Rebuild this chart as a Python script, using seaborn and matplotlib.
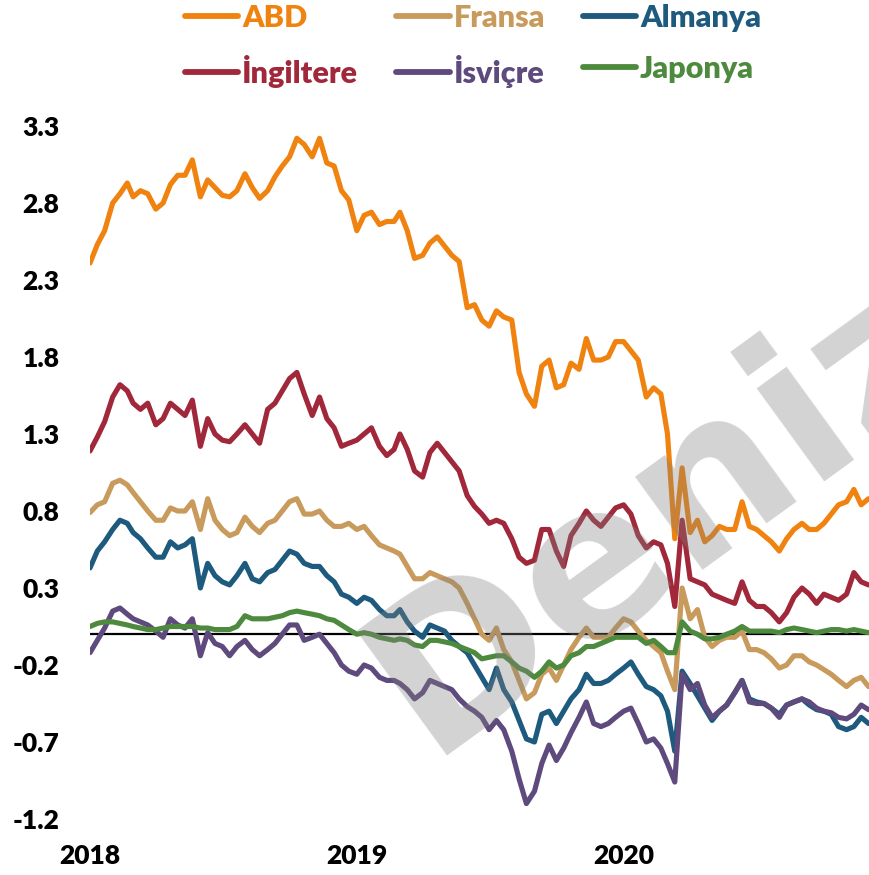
import pandas as pd
import matplotlib
matplotlib.use("Agg")
import matplotlib.pyplot as plt
from matplotlib.lines import Line2D
import seaborn as sns

# sampling dates: 1st, 11th and 21st of each month, Jan 2018 - Dec 2020
dates = pd.to_datetime(
    [f"{y}-{m:02d}-{d:02d}" for y in (2018, 2019, 2020) for m in range(1, 13) for d in (1, 11, 21)
     if not (y == 2020 and m == 12 and d > 1)]
)

abd = [
    2.41, 2.53, 2.62, 2.80, 2.86, 2.93, 2.84, 2.88, 2.86, 2.76, 2.80, 2.92,
    2.98, 2.98, 3.08, 2.84, 2.95, 2.90, 2.85, 2.84, 2.88, 2.99, 2.90, 2.83,
    2.88, 2.97, 3.04, 3.10, 3.22, 3.18, 3.10, 3.22, 3.06, 3.04, 2.88, 2.82,
    2.62, 2.72, 2.74, 2.66, 2.68, 2.68, 2.74, 2.62, 2.44, 2.46, 2.54, 2.58,
    2.52, 2.46, 2.42, 2.12, 2.14, 2.04, 2.00, 2.10, 2.06, 2.04, 1.70, 1.56,
    1.48, 1.74, 1.78, 1.60, 1.62, 1.76, 1.72, 1.92, 1.78, 1.78, 1.80, 1.90,
    1.90, 1.84, 1.78, 1.54, 1.60, 1.56, 1.30, 0.62, 1.08, 0.66, 0.74, 0.60,
    0.64, 0.70, 0.68, 0.68, 0.86, 0.70, 0.68, 0.64, 0.60, 0.54, 0.62, 0.68,
    0.72, 0.68, 0.68, 0.72, 0.78, 0.84, 0.86, 0.94, 0.84, 0.88,
]
fransa = [
    0.79, 0.84, 0.86, 0.98, 1.00, 0.97, 0.92, 0.86, 0.80, 0.74, 0.74, 0.82,
    0.80, 0.80, 0.86, 0.68, 0.88, 0.74, 0.68, 0.64, 0.66, 0.76, 0.70, 0.66,
    0.72, 0.74, 0.80, 0.86, 0.88, 0.78, 0.78, 0.80, 0.74, 0.70, 0.70, 0.72,
    0.68, 0.70, 0.64, 0.58, 0.56, 0.54, 0.52, 0.44, 0.36, 0.36, 0.40, 0.38,
    0.36, 0.34, 0.30, 0.20, 0.10, 0.00, -0.04, 0.04, -0.10, -0.18, -0.30, -0.42,
    -0.38, -0.26, -0.22, -0.30, -0.20, -0.10, -0.02, 0.04, -0.02, -0.02, -0.02, 0.04,
    0.10, 0.08, 0.02, -0.04, -0.08, -0.12, -0.24, -0.36, 0.30, 0.10, 0.16, -0.02,
    -0.08, -0.04, -0.02, -0.02, 0.02, -0.10, -0.10, -0.12, -0.16, -0.22, -0.20, -0.14,
    -0.14, -0.18, -0.20, -0.23, -0.26, -0.30, -0.34, -0.30, -0.28, -0.34,
]
almanya = [
    0.43, 0.54, 0.60, 0.68, 0.74, 0.72, 0.66, 0.62, 0.56, 0.50, 0.50, 0.60,
    0.56, 0.58, 0.62, 0.30, 0.46, 0.38, 0.34, 0.32, 0.38, 0.46, 0.36, 0.34,
    0.40, 0.42, 0.48, 0.54, 0.52, 0.46, 0.44, 0.44, 0.38, 0.34, 0.26, 0.24,
    0.20, 0.24, 0.22, 0.16, 0.12, 0.12, 0.16, 0.08, 0.02, -0.02, 0.06, 0.04,
    0.02, -0.04, -0.08, -0.12, -0.20, -0.28, -0.36, -0.22, -0.36, -0.44, -0.56, -0.68,
    -0.70, -0.52, -0.50, -0.58, -0.50, -0.42, -0.36, -0.26, -0.32, -0.32, -0.30, -0.26,
    -0.22, -0.18, -0.26, -0.34, -0.36, -0.40, -0.50, -0.76, -0.24, -0.32, -0.40, -0.48,
    -0.56, -0.50, -0.46, -0.38, -0.30, -0.42, -0.44, -0.45, -0.48, -0.52, -0.46, -0.44,
    -0.42, -0.46, -0.49, -0.50, -0.52, -0.60, -0.62, -0.60, -0.54, -0.58,
]
ingiltere = [
    1.19, 1.28, 1.38, 1.54, 1.62, 1.58, 1.50, 1.46, 1.50, 1.36, 1.40, 1.50,
    1.46, 1.42, 1.52, 1.22, 1.40, 1.30, 1.26, 1.25, 1.30, 1.36, 1.30, 1.24,
    1.46, 1.50, 1.58, 1.66, 1.70, 1.56, 1.42, 1.54, 1.40, 1.34, 1.22, 1.24,
    1.26, 1.30, 1.34, 1.22, 1.16, 1.20, 1.30, 1.20, 1.06, 1.02, 1.18, 1.24,
    1.18, 1.12, 1.06, 0.90, 0.83, 0.78, 0.72, 0.74, 0.72, 0.62, 0.50, 0.46,
    0.48, 0.68, 0.68, 0.54, 0.44, 0.64, 0.72, 0.80, 0.74, 0.70, 0.76, 0.82,
    0.84, 0.78, 0.64, 0.56, 0.60, 0.58, 0.46, 0.18, 0.74, 0.36, 0.34, 0.32,
    0.26, 0.24, 0.22, 0.20, 0.34, 0.22, 0.18, 0.18, 0.14, 0.08, 0.14, 0.24,
    0.30, 0.26, 0.20, 0.26, 0.24, 0.22, 0.26, 0.40, 0.34, 0.32,
]
isvicre = [
    -0.12, -0.04, 0.04, 0.15, 0.17, 0.13, 0.10, 0.08, 0.06, 0.02, -0.02, 0.10,
    0.06, 0.04, 0.10, -0.14, 0.01, -0.06, -0.08, -0.14, -0.08, -0.04, -0.10, -0.14,
    -0.10, -0.06, 0.00, 0.06, 0.06, -0.04, -0.02, 0.00, -0.06, -0.12, -0.20, -0.24,
    -0.26, -0.20, -0.22, -0.28, -0.30, -0.30, -0.32, -0.36, -0.42, -0.38, -0.30, -0.32,
    -0.34, -0.36, -0.42, -0.47, -0.50, -0.54, -0.62, -0.56, -0.62, -0.76, -0.94, -1.10,
    -1.02, -0.84, -0.72, -0.82, -0.74, -0.64, -0.54, -0.44, -0.58, -0.60, -0.58, -0.54,
    -0.50, -0.48, -0.58, -0.70, -0.68, -0.74, -0.84, -0.96, -0.26, -0.36, -0.32, -0.46,
    -0.54, -0.50, -0.46, -0.38, -0.30, -0.44, -0.45, -0.45, -0.48, -0.54, -0.46, -0.44,
    -0.42, -0.44, -0.48, -0.50, -0.51, -0.54, -0.55, -0.52, -0.46, -0.49,
]
japonya = [
    0.05, 0.07, 0.08, 0.08, 0.07, 0.06, 0.05, 0.04, 0.03, 0.03, 0.04, 0.05,
    0.05, 0.05, 0.05, 0.04, 0.04, 0.03, 0.03, 0.03, 0.05, 0.12, 0.10, 0.10,
    0.10, 0.11, 0.12, 0.14, 0.15, 0.14, 0.13, 0.12, 0.10, 0.09, 0.06, 0.03,
    0.00, 0.01, 0.00, -0.02, -0.03, -0.04, -0.03, -0.04, -0.07, -0.08, -0.04, -0.04,
    -0.05, -0.06, -0.08, -0.10, -0.12, -0.16, -0.15, -0.14, -0.14, -0.18, -0.22, -0.24,
    -0.28, -0.24, -0.18, -0.22, -0.20, -0.14, -0.12, -0.08, -0.08, -0.06, -0.04, -0.02,
    -0.02, -0.02, -0.02, -0.06, -0.04, -0.08, -0.12, -0.12, 0.08, 0.02, 0.00, -0.03,
    -0.03, -0.02, 0.00, 0.02, 0.05, 0.02, 0.02, 0.02, 0.02, 0.01, 0.03, 0.04,
    0.03, 0.02, 0.01, 0.02, 0.03, 0.03, 0.02, 0.03, 0.02, 0.01,
]

countries = ["ABD", "Fransa", "Almanya", "İngiltere", "İsviçre", "Japonya"]
colors = ["#F0820F", "#C89A5C", "#1E5A7E", "#A0283A", "#5E4A7D", "#4E8A3E"]
y_ticks = [-1.2, -0.7, -0.2, 0.3, 0.8, 1.3, 1.8, 2.3, 2.8, 3.3]
x_ticks = ["2018", "2019", "2020"]

series = [abd, fransa, almanya, ingiltere, isvicre, japonya]
df = pd.concat(
    [pd.DataFrame({"tarih": dates, "getiri": vals, "ulke": name}) for name, vals in zip(countries, series)],
    ignore_index=True,
)

sns.set_theme(style="white")
plt.rcParams["font.family"] = ["Lato", "DejaVu Sans"]
plt.rcParams["font.weight"] = "heavy"

fig = plt.figure(figsize=(8.69, 8.75), dpi=100)
ax = fig.add_axes([90 / 869, 56 / 875, 778.5 / 869, 693 / 875])

palette = dict(zip(countries, colors))
sns.lineplot(data=df, x="tarih", y="getiri", hue="ulke", hue_order=countries,
             palette=palette, estimator=None, linewidth=3.7, legend=False, ax=ax,
             solid_capstyle="round", solid_joinstyle="round", zorder=3)

ax.axhline(0, color="black", linewidth=1.6, zorder=2)

ax.set_xlim(pd.Timestamp("2018-01-01"), pd.Timestamp("2020-12-01"))
ax.set_ylim(-1.2, 3.3)
ax.set_yticks(y_ticks)
ax.set_yticklabels([f"{t:.1f}" for t in y_ticks])
ax.set_xticks(pd.to_datetime([f"{t}-01-01" for t in x_ticks]))
ax.set_xticklabels(x_ticks)
ax.set_xlabel("")
ax.set_ylabel("")
ax.tick_params(axis="both", length=0, labelsize=19, colors="black")
ax.tick_params(axis="y", pad=22)
ax.tick_params(axis="x", pad=18)
for lab in ax.get_xticklabels() + ax.get_yticklabels():
    lab.set_fontweight("heavy")
sns.despine(ax=ax, left=True, bottom=True)
ax.grid(False)

# legend, row-wise order like the original (matplotlib fills columns first)
order = [0, 3, 1, 4, 2, 5]
handles = [Line2D([0], [0], color=colors[i], linewidth=4.2, solid_capstyle="round") for i in order]
labels = [countries[i] for i in order]
leg = fig.legend(handles, labels, loc="center", bbox_to_anchor=(473 / 869, 1 - 46 / 875),
                 ncol=3, frameon=False, handlelength=1.75, handletextpad=0.12,
                 columnspacing=1.25, labelspacing=0.75, prop={"size": 22, "weight": "heavy"})
for txt, i in zip(leg.get_texts(), order):
    txt.set_color(colors[i])

# watermark (wider glyphs to match the original's letter spread)
fig.text(428 / 869, 1 - 756 / 875, "Deniz", rotation=36, rotation_mode="anchor",
         ha="left", va="baseline", fontsize=152, fontweight="bold",
         family="DejaVu Sans", color="0.5", alpha=0.35, zorder=10)

fig.savefig("out.png", dpi=100)
